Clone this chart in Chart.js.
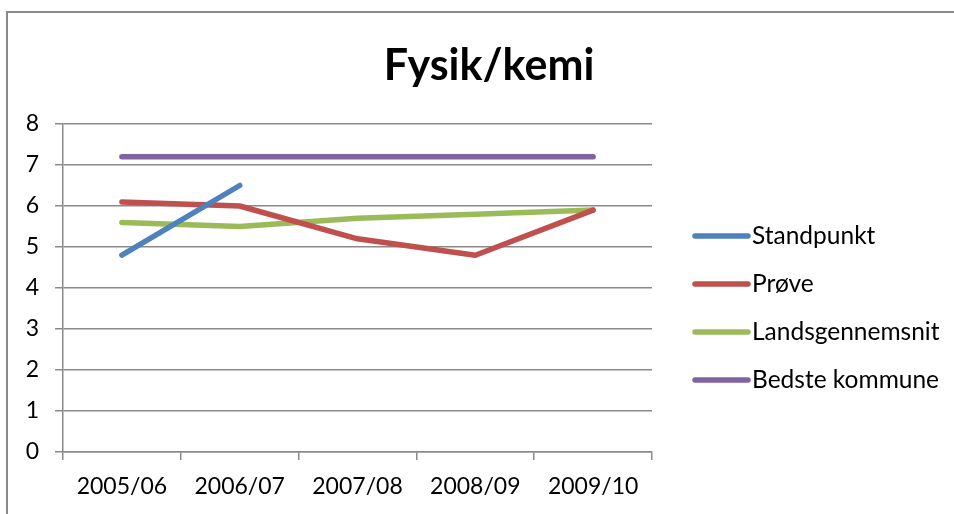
<!DOCTYPE html>
<html>
<head>
<meta charset="utf-8">
<script src="https://cdn.jsdelivr.net/npm/chart.js@4.4.1/dist/chart.umd.min.js"></script>
<style>
  html, body { margin: 0; padding: 0; background: #fff; overflow: hidden; }
  canvas { display: block; }
</style>
</head>
<body>
<canvas id="chart" width="954" height="514"></canvas>
<script>
const chartTitle = 'Fysik/kemi';
const categories = ['2005/06', '2006/07', '2007/08', '2008/09', '2009/10'];
const seriesNames = ['Standpunkt', 'Prøve', 'Landsgennemsnit', 'Bedste kommune'];
const standpunkt = [4.8, 6.5, null, null, null];
const proeve = [6.1, 6.0, 5.2, 4.8, 5.9];
const landsgennemsnit = [5.6, 5.5, 5.7, 5.8, 5.9];
const bedsteKommune = [7.2, 7.2, 7.2, 7.2, 7.2];
const yMin = 0, yMax = 8, yStep = 1;

const colors = ['#4f81bd', '#c0504d', '#9bbb59', '#8064a2'];
const gridColor = '#8a8a8a';

Chart.defaults.font.family = 'Lato';
Chart.defaults.font.size = 23;
Chart.defaults.color = '#000';

// frame, title and legend drawn by hand so they sit where Excel put them
const overlay = {
    id: 'overlay',
    beforeDraw(chart) {
        const ctx = chart.ctx;
        ctx.save();
        ctx.fillStyle = gridColor;
        ctx.fillRect(6, 11, 2, 503);   // left edge of the chart frame
        ctx.fillRect(6, 11, 948, 2);   // top edge
        ctx.restore();
    },
    afterDraw(chart) {
        const ctx = chart.ctx;
        ctx.save();
        ctx.fillStyle = '#000';
        ctx.font = 'bold 43px Lato';
        ctx.textAlign = 'center';
        ctx.textBaseline = 'alphabetic';
        ctx.fillText(chartTitle, 489, 80);

        ctx.font = '24.5px Lato';
        ctx.textAlign = 'left';
        ctx.textBaseline = 'middle';
        chart.data.datasets.forEach((ds, i) => {
            const y = 236 + i * 48;
            ctx.strokeStyle = ds.borderColor;
            ctx.lineWidth = 5.5;
            ctx.lineCap = 'round';
            ctx.beginPath();
            ctx.moveTo(695, y);
            ctx.lineTo(748, y);
            ctx.stroke();
            ctx.fillText(ds.label, 752, y);
        });
        ctx.restore();
    }
};

const series = [standpunkt, proeve, landsgennemsnit, bedsteKommune];

new Chart(document.getElementById('chart'), {
    type: 'line',
    data: {
        labels: categories,
        datasets: series.map((data, i) => ({
            label: seriesNames[i],
            data: data,
            borderColor: colors[i],
            backgroundColor: colors[i],
            borderWidth: 5.5,
            borderCapStyle: 'round',
            borderJoinStyle: 'round',
            pointRadius: 0,
            tension: 0,
            spanGaps: false
        }))
    },
    options: {
        responsive: false,
        animation: false,
        layout: { padding: { top: 124, right: 302, left: 0, bottom: 0 } },
        plugins: {
            legend: { display: false },
            title: { display: false },
            tooltip: { enabled: false }
        },
        scales: {
            x: {
                offset: true,
                grid: { offset: true, drawOnChartArea: false, color: gridColor, lineWidth: 1.5, tickLength: 8 },
                border: { color: gridColor, width: 1.5 },
                ticks: { padding: 13, maxRotation: 0 },
                afterFit(scale) { scale.height = 62; }
            },
            y: {
                min: yMin,
                max: yMax,
                grid: { color: gridColor, lineWidth: 1.5, tickLength: 8 },
                border: { color: gridColor, width: 1.5 },
                ticks: { stepSize: yStep, padding: 16 },
                afterFit(scale) { scale.width = 63; }
            }
        }
    },
    plugins: [overlay]
});
</script>
</body>
</html>
